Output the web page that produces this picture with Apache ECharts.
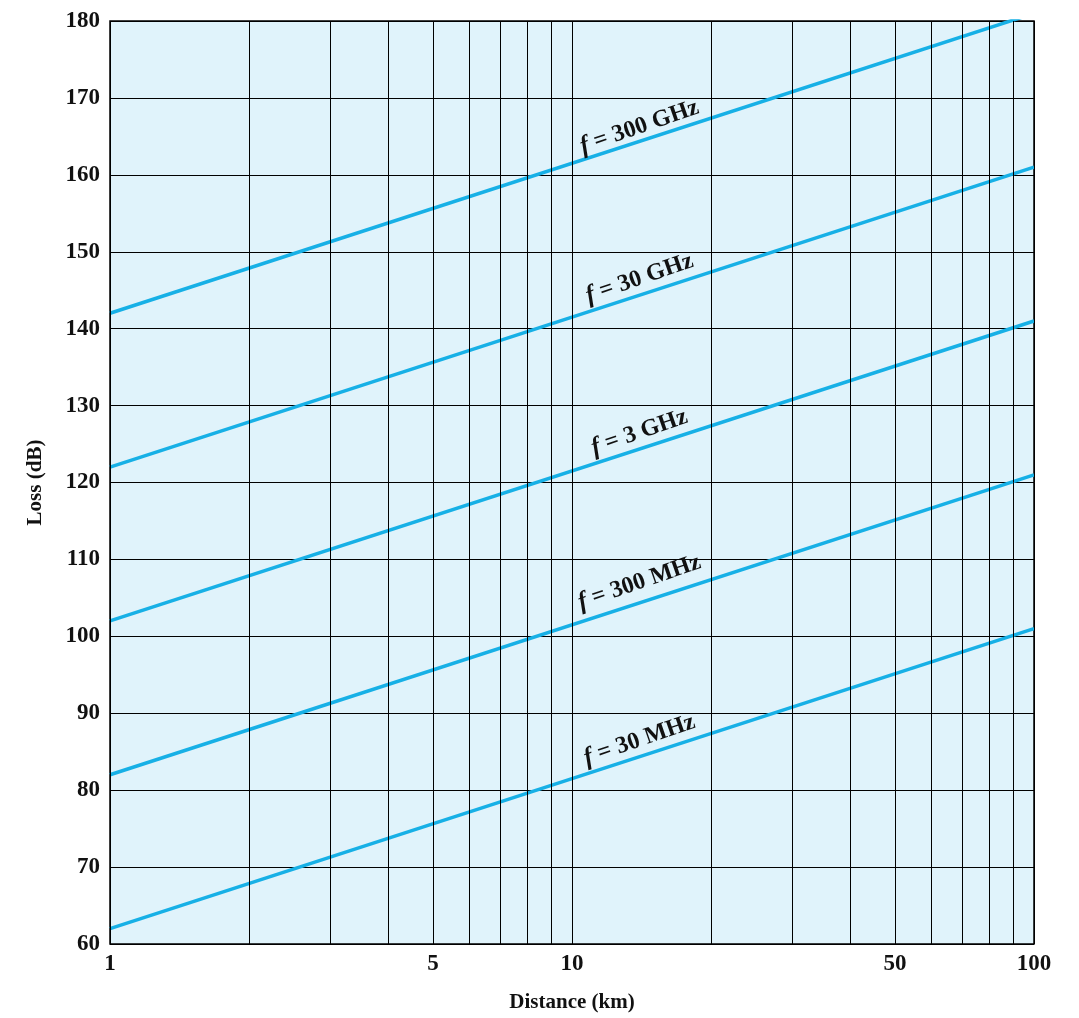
<!DOCTYPE html>
<html>
<head>
<meta charset="utf-8">
<script src="https://cdn.jsdelivr.net/npm/echarts@6/dist/echarts.min.js"></script>
<style>
  html, body { margin: 0; padding: 0; background: #fff; }
  #chart { width: 1079px; height: 1018px; }
</style>
</head>
<body>
<div id="chart"></div>
<script>
// distances at the two ends of each line (km)
const distEnds = [1, 100];
// loss at 1 km and 100 km
const names = ['30 MHz', '300 MHz', '3 GHz', '30 GHz', '300 GHz'];
const lossEnds = [
  [62, 101],
  [82, 121],
  [102, 141],
  [122, 161],
  [142, 181]
];
// where the frequency labels sit
const lblDist = [14, 14, 14, 14, 14];
const lblLoss = [86.5, 107, 126.5, 146.5, 166.2];

// vertical grid lines and which of them get a tick label
const xGrid = [1, 2, 3, 4, 5, 6, 7, 8, 9, 10, 20, 30, 40, 50, 60, 70, 80, 90, 100];
const xLabels = [1, 5, 10, 50, 100];

const FONT = '"Liberation Serif", "DejaVu Serif", serif';
const LINE_COLOR = '#17b0e6';

let chart = echarts.init(document.getElementById('chart'));

let series = names.map((n, i) => {
  return {
    type: 'line',
    name: n,
    data: distEnds.map((d, j) => [d, lossEnds[i][j]]),
    showSymbol: false,
    silent: true,
    z: 3,
    lineStyle: { color: LINE_COLOR, width: 3.5 },
    markPoint: {
      symbol: 'circle',
      symbolSize: 1,
      itemStyle: { color: 'rgba(0,0,0,0)' },
      label: {
        show: true,
        position: 'inside',
        rotate: 19,
        align: 'center',
        verticalAlign: 'middle',
        formatter: '{i|f} = ' + n,
        color: '#111',
        fontFamily: FONT,
        fontWeight: 'bold',
        fontSize: 24,
        rich: {
          i: { fontStyle: 'italic', fontFamily: FONT, fontWeight: 'bold', fontSize: 25, color: '#111' }
        }
      },
      data: [{ coord: [lblDist[i], lblLoss[i]] }]
    }
  }
});

// the log grid (2..9, 20..90) plus the x tick labels
series.push({
  type: 'line',
  data: [],
  silent: true,
  z: 2,
  markLine: {
    symbol: 'none',
    silent: true,
    animation: false,
    lineStyle: { color: '#000', width: 1, type: 'solid' },
    data: xGrid.map(v => ({
      xAxis: v,
      label: {
        show: xLabels.indexOf(v) >= 0,
        position: 'start',
        distance: 9,
        formatter: String(v),
        color: '#111',
        fontFamily: FONT,
        fontWeight: 'bold',
        fontSize: 23
      }
    }))
  }
});

chart.setOption({
  animation: false,
  grid: {
    left: 110, right: 45, top: 21, bottom: 66,
    show: true,
    backgroundColor: '#e0f3fb',
    borderColor: '#000',
    borderWidth: 1.5
  },
  xAxis: {
    type: 'log',
    logBase: 10,
    min: 1,
    max: 100,
    name: 'Distance (km)',
    nameLocation: 'middle',
    nameGap: 48,
    nameTextStyle: { fontFamily: FONT, fontWeight: 'bold', fontSize: 21, color: '#111' },
    axisLine: { show: false },
    axisTick: { show: false },
    axisLabel: { show: false },
    splitLine: { show: false }
  },
  yAxis: {
    type: 'value',
    min: 60,
    max: 180,
    interval: 10,
    name: 'Loss (dB)',
    nameLocation: 'middle',
    nameGap: 64,
    nameRotate: 90,
    nameTextStyle: { fontFamily: FONT, fontWeight: 'bold', fontSize: 21, color: '#111' },
    axisLine: { show: false },
    axisTick: { show: false },
    axisLabel: { margin: 10, fontFamily: FONT, fontWeight: 'bold', fontSize: 23, color: '#111' },
    splitLine: { lineStyle: { color: '#000', width: 1 } }
  },
  series: series
});
</script>
</body>
</html>
